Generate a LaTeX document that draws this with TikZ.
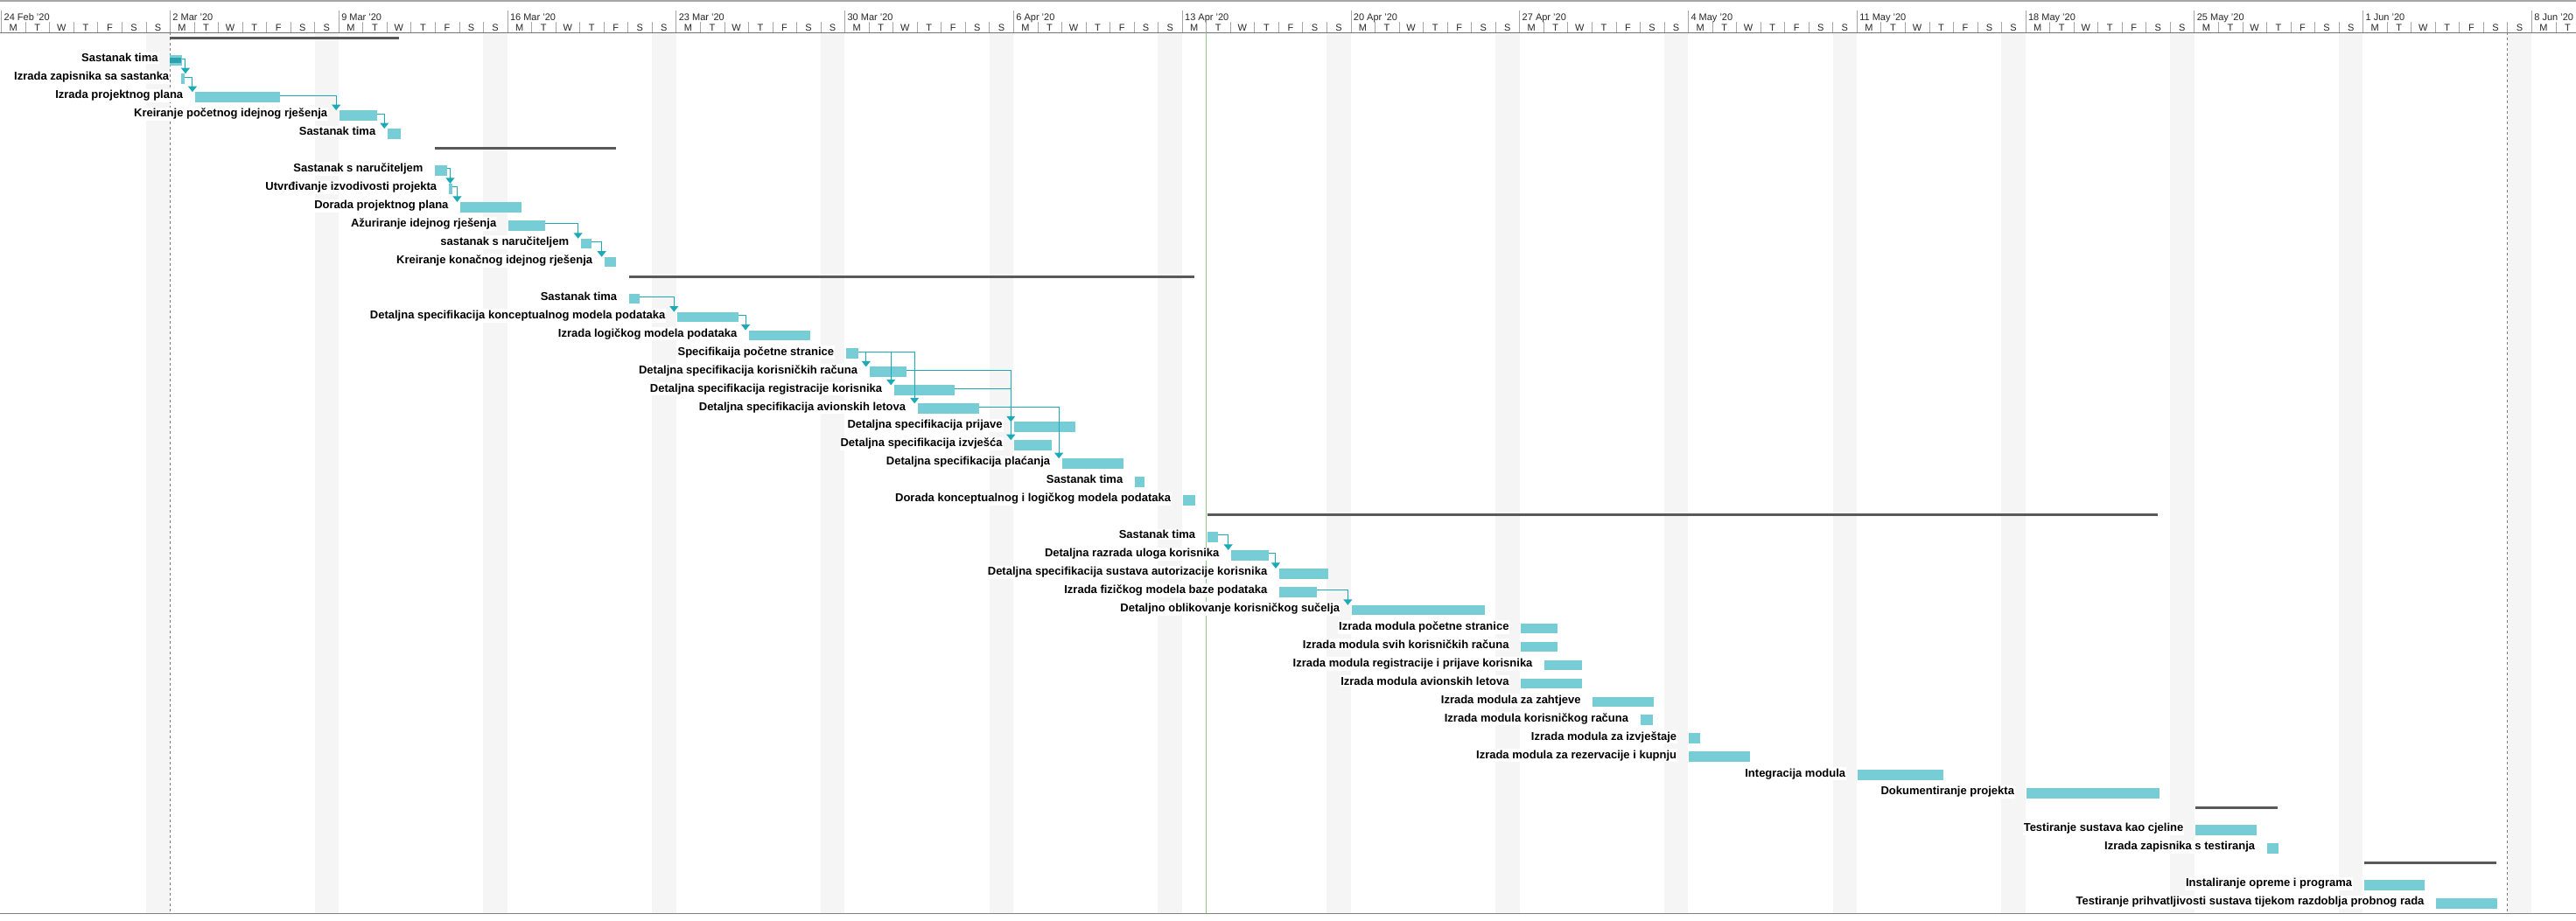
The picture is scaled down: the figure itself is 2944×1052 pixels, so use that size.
\documentclass[tikz,border=0pt]{standalone}
\usepackage{fontspec}
\setmainfont{Liberation Sans}
\usetikzlibrary{arrows.meta}

\definecolor{barfill}{HTML}{76CDD6}
\definecolor{donefill}{HTML}{2BA3AE}
\definecolor{linkcol}{HTML}{1DAAB7}
\definecolor{sumcol}{HTML}{595959}
\definecolor{sunday}{HTML}{F5F5F5}
\definecolor{gridcol}{HTML}{A6A6A6}
\definecolor{todaycol}{HTML}{8CCB8C}

\tikzset{
  taskbar/.style={fill=barfill,draw=none,anchor=north west,inner sep=0pt,
    outer sep=0pt,minimum height=11.7pt},
  tasklabel/.style={font=\bfseries\fontsize{13}{15}\selectfont,fill=white,
    inner xsep=1pt,inner ysep=1.5pt,anchor=base east},
  link/.style={draw=linkcol,line width=1pt,-{Triangle[width=10pt,length=6.5pt]}},
  hdr/.style={inner sep=0pt,text=black!85},
}

\begin{document}
\begin{tikzpicture}[x=27.54pt,y=-20.95pt,font=\fontsize{11}{13}\selectfont]
\useasboundingbox (-1.5pt,42.3pt) rectangle (2942.5pt,-1009.7pt);

% Only Sundays are shaded in the body.
\foreach \d in {6,13,...,104}
  \fill[sunday] (\d,-0.239) rectangle (\d+1,47.84);

% Timescale: week labels on top, day letters below.
\draw[gridcol,line width=1.5pt] (-0.06,-1.98) -- (107,-1.98);
\foreach \d in {1,...,106}
  \draw[gridcol] (\d,-0.826) -- (\d,-0.239);
\foreach \w/\date in {0/24 Feb '20,1/2 Mar '20,2/9 Mar '20,3/16 Mar '20,
  4/23 Mar '20,5/30 Mar '20,6/6 Apr '20,7/13 Apr '20,8/20 Apr '20,
  9/27 Apr '20,10/4 May '20,11/11 May '20,12/18 May '20,13/25 May '20,
  14/1 Jun '20,15/8 Jun '20} {
  \draw[gridcol] (7*\w,-1.461) -- (7*\w,-0.239);
  \node[hdr,anchor=base west] (wk\w) at ([xshift=3pt]7*\w,-0.907) {\date};
}
\foreach \w in {0,...,15}
  \foreach \k/\l in {0/M,1/T,2/W,3/T,4/F,5/S,6/S} {
    \pgfmathtruncatemacro\d{7*\w+\k}
    \ifnum\d<107
      \node[hdr,anchor=base] (dy\d) at (\d+0.5,-0.348) {\l};
    \fi
  }
\draw[gridcol!70!black,line width=1.2pt] (-0.06,-0.239) -- (107,-0.239);

% Project start/finish and the status date.
\draw[gridcol!75!black,dash pattern=on 3pt off 3pt] (7,-0.239) -- (7,47.84);
\draw[gridcol!75!black,dash pattern=on 3pt off 3pt] (104,-0.239) -- (104,47.84);
\draw[todaycol,line width=1pt] (50,-0.239) -- (50,47.84);
\draw[gray,line width=1pt] (-0.06,47.84) -- (107,47.84);

% Summary rows: row/start/end in days from 24 Feb.
\foreach \n/\s/\e in {0/7.0/16.5,6/18.0/25.5,13/26.05/49.5,26/50.05/89.5,
  42/91.05/94.45,45/98.05/103.53}
  \fill[sumcol] (\s,\n) rectangle (\e,\n+0.14);

% Tasks: row/start/end/name.
\foreach \n/\s/\e/\txt in {
  1/7.0/7.5/Sastanak tima,
  2/7.46/7.6/Izrada zapisnika sa sastanka,
  3/8.04/11.57/Izrada projektnog plana,
  4/14.03/15.6/Kreiranje početnog idejnog rješenja,
  5/16.03/16.58/Sastanak tima,
  7/18.0/18.5/Sastanak s naručiteljem,
  8/18.57/18.71/Utvrđivanje izvodivosti projekta,
  9/19.05/21.6/Dorada projektnog plana,
  10/21.04/22.57/Ažuriranje idejnog rješenja,
  11/24.05/24.5/sastanak s naručiteljem,
  12/25.03/25.5/Kreiranje konačnog idejnog rješenja,
  14/26.05/26.49/Sastanak tima,
  15/28.05/30.59/Detaljna specifikacija konceptualnog modela podataka,
  16/31.03/33.57/Izrada logičkog modela podataka,
  17/35.05/35.57/Specifikaija početne stranice,
  18/36.03/37.57/Detaljna specifikacija korisničkih računa,
  19/37.05/39.55/Detaljna specifikacija registracije korisnika,
  20/38.03/40.57/Detaljna specifikacija avionskih letova,
  21/42.04/44.57/Detaljna specifikacija prijave,
  22/42.04/43.6/Detaljna specifikacija izvješća,
  23/44.02/46.57/Detaljna specifikacija plaćanja,
  24/47.04/47.45/Sastanak tima,
  25/49.03/49.55/Dorada konceptualnog i logičkog modela podataka,
  27/50.05/50.49/Sastanak tima,
  28/51.04/52.6/Detaljna razrada uloga korisnika,
  29/53.03/55.07/Detaljna specifikacija sustava autorizacije korisnika,
  30/53.03/54.6/Izrada fizičkog modela baze podataka,
  31/56.04/61.56/Detaljno oblikovanje korisničkog sučelja,
  32/63.06/64.58/Izrada modula početne stranice,
  33/63.06/64.58/Izrada modula svih korisničkih računa,
  34/64.04/65.6/Izrada modula registracije i prijave korisnika,
  35/63.06/65.6/Izrada modula avionskih letova,
  36/66.04/68.56/Izrada modula za zahtjeve,
  37/68.02/68.54/Izrada modula korisničkog računa,
  38/70.02/70.5/Izrada modula za izvještaje,
  39/70.02/72.57/Izrada modula za rezervacije i kupnju,
  40/77.03/80.59/Integracija modula,
  41/84.03/89.56/Dokumentiranje projekta,
  43/91.05/93.6/Testiranje sustava kao cjeline,
  44/94.02/94.49/Izrada zapisnika s testiranja,
  46/98.05/100.55/Instaliranje opreme i programa,
  47/101.04/103.56/Testiranje prihvatljivosti sustava tijekom razdoblja probnog rada} {
  \pgfmathsetmacro\w{(\e-\s)*27.54}
  \node[taskbar,minimum width=\w pt] (t\n) at (\s,\n) {};
  \node[tasklabel] (l\n) at ([xshift=-12.5pt,yshift=-7.7pt]t\n.north west) {\txt};
}

% First meeting is done.
\fill[donefill] ([yshift=-2.7pt]t1.north west)
  rectangle ([xshift=-0.8pt,yshift=2.7pt]t1.south east);

% Finish-to-start links: predecessor/successor/shift of the drop.
\foreach \a/\b/\dx in {1/2/5,2/3/-3,3/4/-3.7,4/5/-3.7,7/8/1.5,8/9/-3.7,
  10/11/-3.2,11/12/-3.2,14/15/-3.7,15/16/-4,17/18/-4,17/19/-3.7,17/20/-3.7,
  18/21/-4,19/22/-4,20/23/-3.7,27/28/-3.5,28/29/-4,30/31/-4.5}
  \draw[link] ([yshift=-4pt]t\a.north east) -| ([xshift=\dx pt]t\b.north west);
\end{tikzpicture}
\end{document}
